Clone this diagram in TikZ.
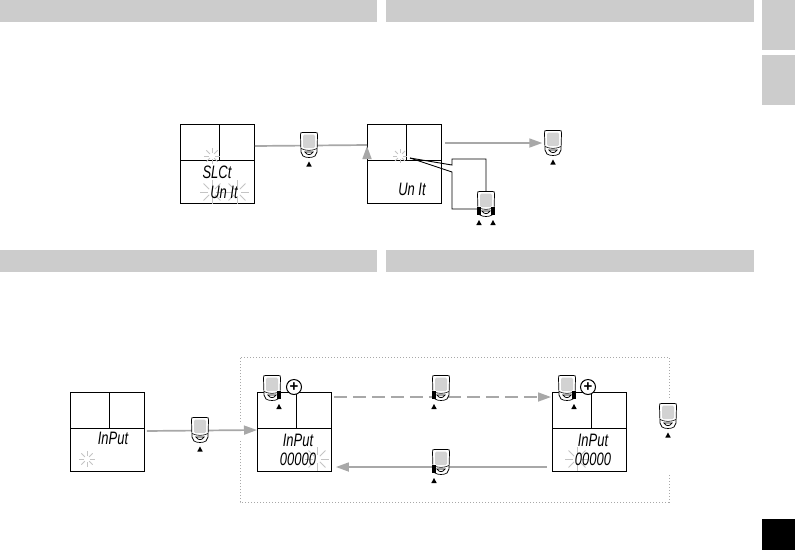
\documentclass[tikz,border=0pt]{standalone}
\usepackage{graphicx}
\usepackage{fontspec}
\setmainfont{Liberation Sans}
\definecolor{hdrgray}{HTML}{CCCCCC}
\definecolor{flowgray}{HTML}{A8A8A8}
\definecolor{flashgray}{HTML}{C4C4C4}
\definecolor{screengray}{HTML}{D2D2D2}
\usetikzlibrary{arrows.meta,positioning}
\newcommand{\lcd}[1]{\scalebox{.72}[1]{\fontsize{18}{18}\selectfont\itshape #1}}
\tikzset{
  hdrbar/.style={fill=hdrgray,draw=none,inner sep=0pt,anchor=north west},
  dispbox/.style={draw=black,line width=0.9pt,fill=white,minimum width=74pt,minimum height=79pt,inner sep=0pt,anchor=north west},
  watchbox/.style={minimum width=17pt,minimum height=25pt,inner sep=0pt},
  lcdtext/.style={inner sep=0pt},
  flow/.style={draw=flowgray,line width=1.7pt,-{Triangle[length=13pt,width=9pt]}},
  wire/.style={draw=black,line width=0.9pt},
  plusmark/.style={circle,draw=black,line width=1pt,fill=white,minimum size=15pt,inner sep=0pt,font=\bfseries\fontsize{15}{15}\selectfont},
  pics/blink/.style 2 args={code={
    \foreach \a in {0,45,...,315} \draw[flashgray,line width=0.9pt] (\a:#1) -- (\a:#2);
  }},
  pics/watchbody/.style={code={
    \draw[fill=white,line width=0.7pt] (-6.5,-12.5) -- (6.5,-12.5) .. controls (8.5,-12.5) .. (8.5,-9.5)
      -- (8,7) -- (6,11) .. controls (3,13) and (-3,13) .. (-6,11) -- (-8,7) -- (-8.5,-9.5)
      .. controls (-8.5,-12.5) .. (-6.5,-12.5) -- cycle;
    \fill[screengray,rounded corners=1.5pt] (-6,-10.5) rectangle (6,3);
    \draw[line width=0.6pt] (-8,3.5) .. controls (-3,6) and (3,6) .. (8,3.5);
    \draw[line width=0.8pt] (-4,7) .. controls (-2,10.5) and (2,10.5) .. (4,7) -- cycle;
  }},
  pics/keytip/.style={code={\fill (-2.7,5) -- (2.7,5) -- (0,0) -- cycle;}},
  pics/watchmid/.style={code={\pic {watchbody}; \pic at (0,16.5) {keytip};}},
  pics/watchleft/.style={code={\pic {watchbody}; \fill (-9,3) rectangle (-5,11); \pic at (-7,16) {keytip};}},
  pics/watchright/.style={code={\pic {watchbody}; \fill (5,3) rectangle (9,11); \pic at (7,16) {keytip};}},
  pics/watchboth/.style={code={\pic {watchbody}; \fill (-9,3) rectangle (-5,11); \fill (5,3) rectangle (9,11);
    \pic at (-7,16) {keytip}; \pic at (7,16) {keytip};}}
}
\newcommand{\dividers}[1]{%
  \draw[wire] ([xshift=39pt]#1.north west) -- ++(0,36);
  \draw[wire] ([yshift=-36pt]#1.north west) -- ++(74,0);}
\begin{document}
\begin{tikzpicture}[x=1pt,y=-1pt]
\useasboundingbox (0,0) rectangle (795,550);
% header bars and page tabs
\node[hdrbar,minimum width=377pt,minimum height=22pt] (hdra) at (0,0) {};
\node[hdrbar,minimum width=368pt,minimum height=22pt] (hdrb) at (386,0) {};
\node[hdrbar,minimum width=377pt,minimum height=22pt] (hdrc) at (0,250) {};
\node[hdrbar,minimum width=368pt,minimum height=22pt] (hdrd) at (386,250) {};
\node[hdrbar,minimum width=33pt,minimum height=50pt] (taba) at (762,0) {};
\node[hdrbar,minimum width=33pt,minimum height=50pt] (tabb) at (762,55) {};
\node[hdrbar,fill=black,minimum width=33pt,minimum height=31pt] (tabc) at (762,519) {};
% displays
\node[dispbox] (dispselect) at (180,124) {};
\node[dispbox] (dispunit) at (367,124) {};
\node[dispbox] (dispinput) at (70,392) {};
\node[dispbox] (dispfirst) at (257,392) {};
\node[dispbox] (dispnext) at (552,392) {};
\dividers{dispselect}
\dividers{dispunit}
\dividers{dispinput}
\dividers{dispfirst}
\dividers{dispnext}
% watches
\node[watchbox] (wselect) at (309,145) {};
\node[watchbox] (wconfirm) at (553,143) {};
\node[watchbox] (wboth) at (486,204) {};
\node[watchbox] (winput) at (200,430) {};
\node[watchbox] (wplusa) at (272,388) {};
\node[watchbox] (wplusb) at (567,388) {};
\node[watchbox] (wfwd) at (441,388) {};
\node[watchbox] (wback) at (441,462) {};
\node[watchbox] (wexit) at (668,416) {};
% frame round the input loop
\draw[flowgray,dotted,line width=1pt] (240,422) -- (240,357) -- (669,357) -- (669,398);
\draw[flowgray,dotted,line width=1pt] (669,475) -- (669,502) -- (240,502) -- (240,440);
% connectors
\draw[flow,shorten <=2pt] (dispselect.east |- wselect) ++(0,1) -- (dispunit.west |- wselect.center) ++(0,1);
\draw[flow,shorten <=3pt,shorten >=2pt] (dispunit.east |- wconfirm) -- (wconfirm.west);
\draw[flow,shorten <=2pt] (dispinput.east |- winput) ++(0,1) -- (dispfirst.west |- winput);
\draw[flow,shorten <=2pt,shorten >=1pt,dash pattern=on 13pt off 6pt] ([yshift=-9pt]dispfirst.east |- wfwd) -- ([yshift=-9pt]dispnext.west |- wfwd);
\draw[flow,shorten <=5pt,shorten >=4pt] ([yshift=-5pt]dispnext.west |- wback) -- ([yshift=-5pt]dispfirst.east |- wback);
\coordinate (flash) at (410,158);
\draw[wire] (flash) -- (452,165) -- (452,159) -| (wboth.north);
\draw[wire] (flash) -- (452,172) -- (452,209) -- (wboth.west |- 452,209);
% watch drawings
\pic at (wselect) {watchmid};
\pic at (wconfirm) {watchmid};
\pic at (wboth) {watchboth};
\pic at (winput) {watchmid};
\pic at (wplusa) {watchright};
\pic at (wplusb) {watchright};
\pic at (wfwd) {watchleft};
\pic at (wback) {watchleft};
\pic at (wexit) {watchmid};
\node[plusmark] (plusa) at (294,387) {+};
\node[plusmark] (plusb) at (588,387) {+};
% blinking segments
\pic at (212,156) {blink={3}{8}};
\pic at (212,192) {blink={4}{12}};
\pic at (237,192) {blink={4}{12}};
\pic at (400,156) {blink={3}{7}};
\pic at (87,459) {blink={3}{8}};
\pic at (317,459) {blink={4}{12}};
\pic at (577,459) {blink={4}{12}};
% display texts
\node[lcdtext] (txtselect) at (217,172) {\lcd{SLCt}};
\node[lcdtext] (txtunita) at (224,192) {\lcd{Un It}};
\node[lcdtext] (txtunitb) at (412,189) {\lcd{Un It}};
\node[lcdtext] (txtinputa) at (113,438) {\lcd{InPut}};
\node[lcdtext] (txtinputb) at (298,440) {\lcd{InPut}};
\node[lcdtext] (txtzerosa) at (298,459) {\lcd{00000}};
\node[lcdtext] (txtinputc) at (593,440) {\lcd{InPut}};
\node[lcdtext] (txtzerosb) at (593,459) {\lcd{00000}};
\end{tikzpicture}
\end{document}
